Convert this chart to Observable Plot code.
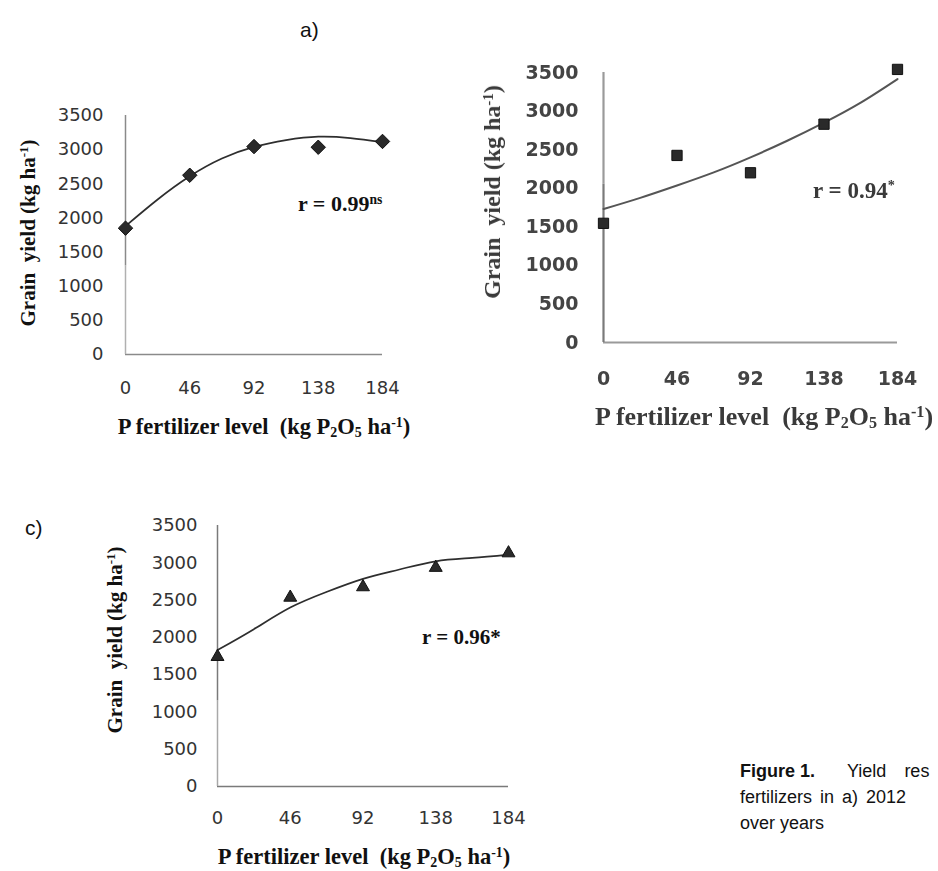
<!DOCTYPE html>
<html>
<head>
<meta charset="utf-8">
<script src="https://cdn.jsdelivr.net/npm/d3@7"></script>
<script src="https://cdn.jsdelivr.net/npm/@observablehq/plot@0.6"></script>
<style>
  html, body { margin:0; padding:0; background:#fff; }
  body { width:938px; height:871px; overflow:hidden; position:relative; }
  .layer { position:absolute; left:0; top:0; }
  .t { position:absolute; white-space:pre; line-height:1; }
  .serif { font-family:"Liberation Serif", "Times New Roman", serif; font-weight:bold; color:#111; }
  .rot { transform: translate(-50%,-50%) rotate(-90deg); }
  .ctr { transform: translate(-50%,-50%); }
  .lm { transform: translate(0,-50%); }
  sup { font-size:0.62em; vertical-align:0.5em; line-height:0; }
  sub { font-size:0.62em; vertical-align:-0.2em; line-height:0; }
  .sans { font-family:"Liberation Sans", Arial, sans-serif; color:#111; }
  .blur { filter: blur(0.35px); }
</style>
</head>
<body>
<div id="pa" class="layer"></div>
<div id="pb" class="layer blur"></div>
<div id="pc" class="layer"></div>

<!-- panel labels -->
<div class="t sans" style="left:300px;top:19px;font-size:21px;">a)</div>
<div class="t sans" style="left:25px;top:517px;font-size:21px;">c)</div>

<!-- panel a titles -->
<div class="t serif rot" style="left:28px;top:233px;font-size:21px;">Grain  yield (kg ha<sup>-1</sup>)</div>
<div class="t serif ctr" style="left:264px;top:427px;font-size:22.5px;">P fertilizer level  (kg P<sub>2</sub>O<sub>5</sub> ha<sup>-1</sup>)</div>
<div class="t serif lm" style="left:298px;top:204px;font-size:22px;">r = 0.99<sup>ns</sup></div>

<!-- panel b titles -->
<div class="t serif rot blur" style="left:492px;top:192px;font-size:24px;color:#3a3a3a;">Grain  yield (kg ha<sup>-1</sup>)</div>
<div class="t serif ctr blur" style="left:764px;top:417px;font-size:26px;color:#3a3a3a;">P fertilizer level  (kg P<sub>2</sub>O<sub>5</sub> ha<sup>-1</sup>)</div>
<div class="t serif lm blur" style="left:813px;top:190px;font-size:23px;color:#3a3a3a;">r = 0.94<sup>*</sup></div>

<!-- panel c titles -->
<div class="t serif rot" style="left:115px;top:640px;font-size:21px;">Grain  yield (kg ha<sup>-1</sup>)</div>
<div class="t serif ctr" style="left:364px;top:857px;font-size:22.5px;">P fertilizer level  (kg P<sub>2</sub>O<sub>5</sub> ha<sup>-1</sup>)</div>
<div class="t serif lm" style="left:422px;top:637px;font-size:21px;">r = 0.96*</div>

<!-- caption -->
<div class="t sans" style="left:740px;top:762px;font-size:18px;"><b>Figure 1.</b><span style="margin-left:32px">Yield</span><span style="margin-left:18px">res</span></div>
<div class="t sans" style="left:740px;top:788px;font-size:18px;word-spacing:3px;">fertilizers in a) 2012</div>
<div class="t sans" style="left:740px;top:814px;font-size:18px;">over years</div>

<script>
// ---- data ----
const pLevels = [0, 46, 92, 138, 184];            // kg P2O5 ha-1
const yTicks  = [0, 500, 1000, 1500, 2000, 2500, 3000, 3500];

// observed grain yield (kg ha-1)
const yieldA = [1850, 2625, 3045, 3035, 3120];
const yieldB = [1545, 2425, 2200, 2830, 3540];
const yieldC = [1740, 2535, 2675, 2935, 3130];

// fitted response curves, read at these P levels
const fitLevels = [0, 23, 46, 69, 92, 115, 138, 161, 184];
const fitA = [1880, 2270, 2610, 2870, 3040, 3140, 3190, 3170, 3110];
const fitB = [1730, 1875, 2035, 2205, 2400, 2615, 2850, 3110, 3415];
const fitC = [1830, 2110, 2400, 2610, 2785, 2910, 3020, 3065, 3110];

const W = 938, H = 871;
const fmt = d => String(d);

function panel(cfg) {
  const pts = pLevels.map((p, i) => ({p, y: cfg.obs[i]}));
  const fit = fitLevels.map((p, i) => ({p, y: cfg.fit[i]}));
  return Plot.plot({
    width: W, height: H,
    marginLeft: cfg.m[0], marginRight: cfg.m[1], marginTop: cfg.m[2], marginBottom: cfg.m[3],
    x: {domain: [0, 184], axis: null},
    y: {domain: [0, 3500], axis: null},
    style: {fontFamily: "DejaVu Sans, sans-serif", background: "transparent", overflow: "visible"},
    marks: [
      Plot.ruleY([0], {stroke: cfg.axisColor, strokeWidth: cfg.axisWidth}),
      Plot.ruleX([{x: 0, y1: 0, y2: cfg.breakAt}], {x: "x", y1: "y1", y2: "y2", stroke: cfg.axisLow, strokeWidth: cfg.axisWidth}),
      Plot.ruleX([{x: 0, y1: cfg.breakAt, y2: 3500}], {x: "x", y1: "y1", y2: "y2", stroke: cfg.axisColor, strokeWidth: cfg.axisWidth}),
      Plot.axisY(yTicks, {tickSize: 0, tickPadding: cfg.yPad, fontSize: cfg.fs, fontWeight: cfg.fw, color: cfg.tickColor, tickFormat: fmt, label: null}),
      Plot.axisX(pLevels, {tickSize: 0, tickPadding: cfg.xPad, fontSize: cfg.fs, fontWeight: cfg.fw, color: cfg.tickColor, tickFormat: fmt, label: null}),
      Plot.line(fit, {x: "p", y: "y", curve: "natural", stroke: cfg.lineColor, strokeWidth: cfg.lineWidth}),
      Plot.dot(pts, {x: "p", y: "y", symbol: cfg.symbol, r: cfg.r, fill: "#2a2a2a", stroke: "#111", strokeWidth: 1})
    ]
  });
}

document.getElementById("pa").append(panel({
  obs: yieldA, fit: fitA, m: [125, W - 382, 115, H - 354],
  axisColor: "#8a8a8a", axisLow: "#b0b0b0", axisWidth: 1.5, breakAt: 1300,
  yPad: 22, xPad: 27, fs: 18, fw: "normal", tickColor: "#333",
  lineColor: "#2e2e2e", lineWidth: 1.7, symbol: "diamond2", r: 6.5
}));

document.getElementById("pb").append(panel({
  obs: yieldB, fit: fitB, m: [603, W - 897, 72, H - 342],
  axisColor: "#9a9a9a", axisLow: "#7a7a7a", axisWidth: 2.2, breakAt: 2050,
  yPad: 25, xPad: 29, fs: 19, fw: "bold", tickColor: "#444",
  lineColor: "#555", lineWidth: 2, symbol: "square", r: 5.8
}));

document.getElementById("pc").append(panel({
  obs: yieldC, fit: fitC, m: [217, W - 508, 525, H - 786],
  axisColor: "#7a7a7a", axisLow: "#a8a8a8", axisWidth: 1.5, breakAt: 1150,
  yPad: 20, xPad: 25, fs: 18, fw: "normal", tickColor: "#333",
  lineColor: "#2e2e2e", lineWidth: 1.7, symbol: "triangle", r: 4.8
}));
</script>
</body>
</html>
